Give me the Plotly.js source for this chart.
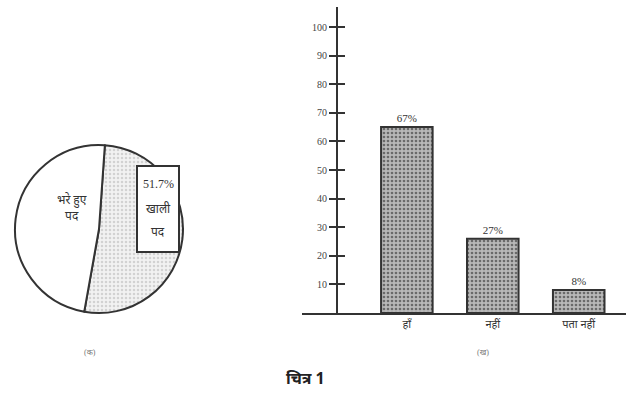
<!DOCTYPE html>
<html><head><meta charset="utf-8">
<script src="https://cdn.plot.ly/plotly-3.0.1.min.js"></script>
<style>html,body{margin:0;padding:0;background:#fff}#c{width:626px;height:412px}</style>
</head><body><div id="c"></div>
<script>
// Pie (क)
const pieLabels = ['खाली पद', 'भरे हुए पद'];
const pieValues = [51.7, 48.3];
// Bar (ख)
const barCats = ['हाँ', 'नहीं', 'पता नहीं'];
const barValues = [65, 26, 8];
const barText = ['67%', '27%', '8%'];
const yTicks = [10, 20, 30, 40, 50, 60, 70, 80, 90, 100];

const F = 'Liberation Serif, Noto Sans, serif';
const ink = '#333';

const traces = [
  {
    type: 'pie', labels: pieLabels, values: pieValues, sort: false,
    direction: 'clockwise', rotation: 4,
    domain: {x: [15/626, 183/626], y: [1-313/412, 1-145/412]},
    marker: {colors: ['#ebebeb', '#ffffff'], line: {color: ink, width: 2},
             pattern: {shape: ['.', ''], fgcolor: '#d2d2d2', bgcolor: '#f2f2f2', size: 4, solidity: 0.3}},
    textinfo: 'none', hoverinfo: 'none', showlegend: false
  },
  {
    type: 'bar', x: barCats, y: barValues, text: barText, textposition: 'outside',
    cliponaxis: false,
    textfont: {family: F, size: 11, color: ink},
    marker: {color: '#a8a8a8', line: {color: ink, width: 2},
             pattern: {shape: '.', fgcolor: '#6a6a6a', bgcolor: '#b8b8b8', size: 4, solidity: 0.35}},
    xaxis: 'x', yaxis: 'y', showlegend: false, hoverinfo: 'none'
  }
];

const yDom = [1-313/412, 1-7/412];
function note(x, y, text, font, extra) {
  return Object.assign({xref: 'paper', yref: 'paper', x: x/626, y: 1-y/412, text: text,
    showarrow: false, xanchor: 'center', yanchor: 'middle', font: font}, extra || {});
}
const tf = {family: F, size: 12, color: '#333'};
const layout = {
  width: 626, height: 412, margin: {l: 0, r: 0, t: 0, b: 0},
  paper_bgcolor: '#fff', plot_bgcolor: 'rgba(0,0,0,0)',
  bargap: 0.4, showlegend: false,
  xaxis: {domain: [302/626, 1], range: [-1.22, 2.55], showline: true, linecolor: ink, linewidth: 2,
          ticks: '', showgrid: false, zeroline: false, fixedrange: true,
          tickfont: {family: F, size: 11, color: ink}},
  yaxis: {domain: yDom, range: [0, 107], anchor: 'free', position: 337/626,
          showline: true, linecolor: ink, linewidth: 2, tickvals: yTicks,
          ticks: 'outside', ticklen: 7, tickwidth: 2, tickcolor: ink,
          showgrid: false, zeroline: false, tickfont: {family: F, size: 10, color: '#444'}},
  yaxis2: {domain: yDom, range: [0, 107], anchor: 'free', position: 337/626, overlaying: 'y',
           showline: false, tickvals: yTicks, ticks: 'inside', ticklen: 7, tickwidth: 2, tickcolor: ink,
           showticklabels: false, showgrid: false, zeroline: false},
  annotations: [
    note(72, 207, 'भरे हुए<br>पद', tf),
    note(158, 209, ' ', tf, {bordercolor: ink, borderwidth: 2, bgcolor: '#ffffff', borderpad: 0, width: 40, height: 84}),
    note(158, 184, '51.7%', tf),
    note(158, 208, 'खाली', tf),
    note(158, 232, 'पद', tf),
    note(90, 352, '(क)', {family: F, size: 8, color: '#777'}),
    note(483, 352, '(ख)', {family: F, size: 8, color: '#777'}),
    note(305, 378, '<b>चित्र 1</b>', {family: 'Noto Sans, sans-serif', size: 16, color: '#222'})
  ]
};
traces.push({type: 'scatter', x: [], y: [], xaxis: 'x', yaxis: 'y2', showlegend: false});
Plotly.newPlot('c', traces, layout, {staticPlot: true});
</script></body></html>
